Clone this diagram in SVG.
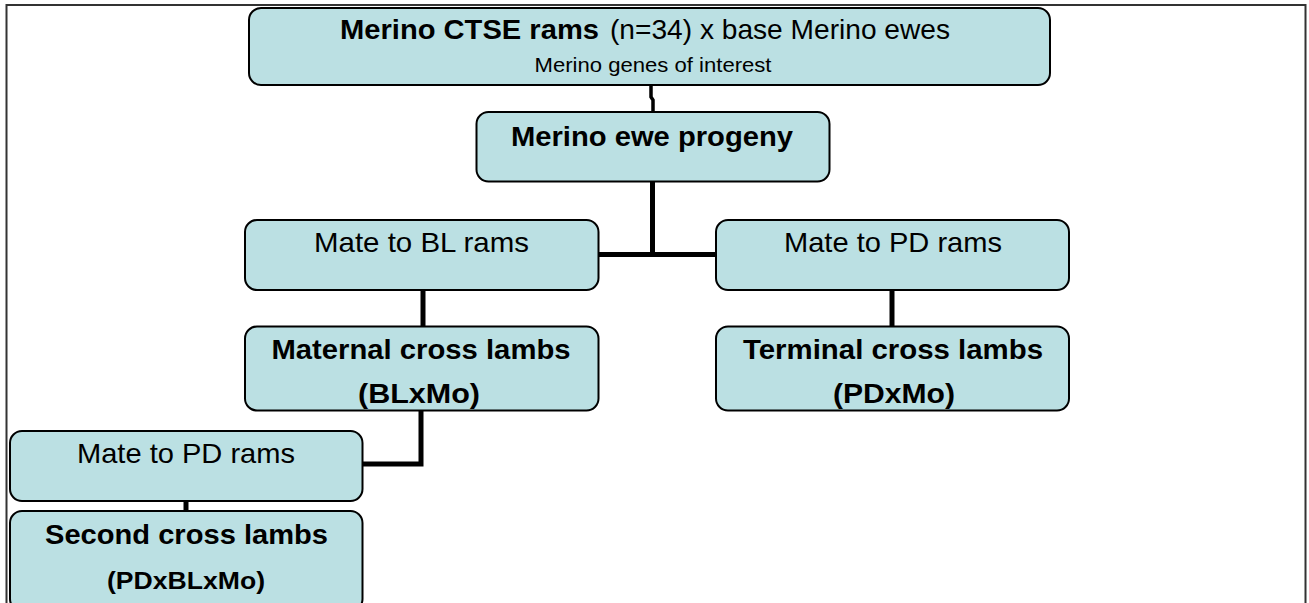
<svg xmlns="http://www.w3.org/2000/svg" width="1309" height="603" viewBox="0 0 1309 603">
<style>
.box{fill:#bbe0e3;stroke:#000;stroke-width:2}
.t{font-family:"Liberation Sans",Arial,sans-serif;font-size:28px;fill:#000;text-anchor:middle}
.b{font-weight:bold}
.s{font-size:20px}
.c{fill:none;stroke:#000;stroke-width:5}
</style>
<rect width="1309" height="603" fill="#fff"/>
<rect x="6.5" y="5" width="1299" height="700" fill="none" stroke="#333" stroke-width="2"/>
<g id="connectors">
<path d="M651,85 V97 L653,100 V112" fill="none" stroke="#000" stroke-width="3.5"/>
<path class="c" d="M652.5,181 V254.5 M598,254.5 H716"/>
<path class="c" d="M423,290 V327"/>
<path class="c" d="M892,290 V327"/>
<path class="c" d="M421,410 V464 H362"/>
<path class="c" d="M186,501 V511" stroke-width="6"/>
</g>
<g id="n1">
<rect class="box" x="249" y="8" width="801" height="77" rx="12"/>
<text class="t b" x="340" y="39" style="text-anchor:start" textLength="259" lengthAdjust="spacingAndGlyphs">Merino CTSE rams</text>
<text class="t" x="610" y="39" style="text-anchor:start" textLength="340" lengthAdjust="spacingAndGlyphs">(n=34) x base Merino ewes</text>
<text class="t s" x="653" y="72" textLength="237" lengthAdjust="spacingAndGlyphs">Merino genes of interest</text>
</g>
<g id="n2">
<rect class="box" x="476.5" y="112" width="353" height="69.5" rx="12"/>
<text class="t b" x="652" y="146" textLength="282" lengthAdjust="spacingAndGlyphs">Merino ewe progeny</text>
</g>
<g id="n3">
<rect class="box" x="245" y="220" width="353.5" height="70" rx="12"/>
<text class="t" x="421.5" y="252" textLength="215" lengthAdjust="spacingAndGlyphs">Mate to BL rams</text>
</g>
<g id="n4">
<rect class="box" x="716" y="220" width="353" height="70" rx="12"/>
<text class="t" x="893" y="252" textLength="218" lengthAdjust="spacingAndGlyphs">Mate to PD rams</text>
</g>
<g id="n5">
<rect class="box" x="245" y="326.5" width="353.5" height="84" rx="12"/>
<text class="t b" x="421" y="359" textLength="299" lengthAdjust="spacingAndGlyphs">Maternal cross lambs</text>
<text class="t b" x="419" y="403" textLength="122" lengthAdjust="spacingAndGlyphs">(BLxMo)</text>
</g>
<g id="n6">
<rect class="box" x="716" y="326.5" width="353" height="84" rx="12"/>
<text class="t b" x="893" y="359" textLength="300" lengthAdjust="spacingAndGlyphs">Terminal cross lambs</text>
<text class="t b" x="894" y="403" textLength="122" lengthAdjust="spacingAndGlyphs">(PDxMo)</text>
</g>
<g id="n7">
<rect class="box" x="10" y="431" width="352.5" height="70" rx="12"/>
<text class="t" x="186" y="463" textLength="218" lengthAdjust="spacingAndGlyphs">Mate to PD rams</text>
</g>
<g id="n8">
<rect class="box" x="10" y="511" width="352.5" height="100" rx="12"/>
<text class="t b" x="186.5" y="544" textLength="283" lengthAdjust="spacingAndGlyphs">Second cross lambs</text>
<text class="t b" x="186" y="589" style="font-size:24px" textLength="158" lengthAdjust="spacingAndGlyphs">(PDxBLxMo)</text>
</g>
</svg>
